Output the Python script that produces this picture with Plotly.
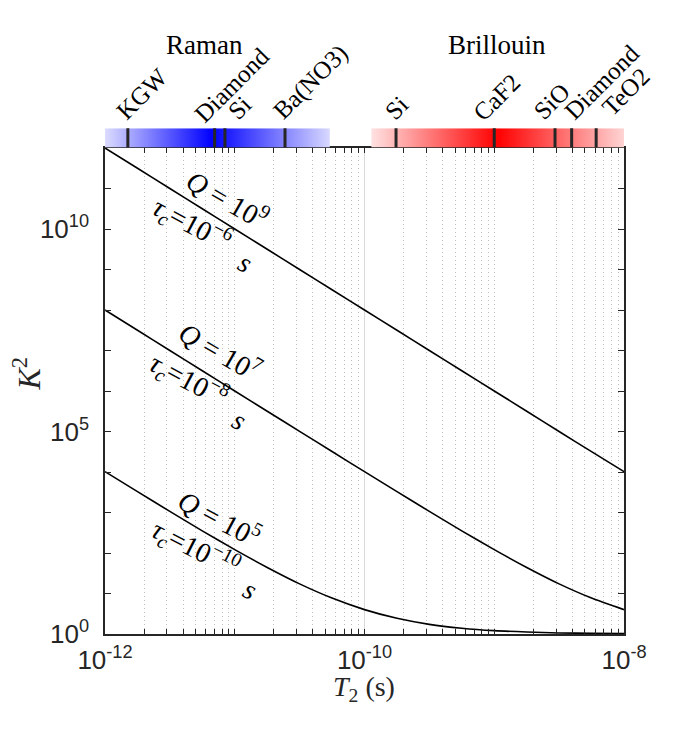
import numpy as np
import plotly.graph_objects as go

# Coherence time T2 (s), sampled every quarter decade
t2 = [1e-12, 1.78e-12, 3.16e-12, 5.62e-12, 1e-11, 1.78e-11, 3.16e-11, 5.62e-11,
      1e-10, 1.78e-10, 3.16e-10, 5.62e-10, 1e-9, 1.78e-9, 3.16e-9, 5.62e-9, 1e-8]

# K^2
k2_q9 = [1e12, 3.16e11, 1e11, 3.16e10, 1e10, 3.16e9, 1e9, 3.16e8,
         1e8, 3.16e7, 1e7, 3.16e6, 1e6, 3.17e5, 1e5, 3.18e4, 1.02e4]
k2_q7 = [1e8, 3.16e7, 1e7, 3.17e6, 1e6, 3.17e5, 1.01e5, 3.2e4,
         1.02e4, 3275, 1064, 353, 121, 43.9, 17.3, 7.72, 4.0]
k2_q5 = [1.02e4, 3275, 1064, 353, 121, 43.9, 17.3, 7.72,
         4.0, 2.44, 1.73, 1.39, 1.21, 1.12, 1.06, 1.04, 1.02]

# Material T2 values shown in the top strip
raman_names = ['KGW', 'Diamond', 'Si', 'Ba(NO3)']
raman_t2 = [1.5e-12, 7.0e-12, 8.4e-12, 2.44e-11]
raman_span = [1e-12, 5.4e-11]
brillouin_names = ['Si', 'CaF2', 'SiO', 'Diamond', 'TeO2']
brillouin_t2 = [1.75e-10, 1.0e-9, 2.94e-9, 3.95e-9, 6.1e-9]
brillouin_span = [1.13e-10, 1e-8]

INK = '#262626'
SERIF = 'Liberation Serif'
SANS = 'Liberation Sans'

fig = go.Figure()

# Curves
for k2 in (k2_q9, k2_q7, k2_q5):
    fig.add_trace(go.Scatter(
        x=t2, y=k2, mode='lines',
        line=dict(color='black', width=1.6, shape='spline', smoothing=0.6),
        hoverinfo='skip', showlegend=False))

# Gradient bars on top
def add_bar(span, colorscale):
    fig.add_trace(go.Scatter(
        x=[span[0], span[1], span[1], span[0], span[0]], y=[0, 0, 1, 1, 0],
        xaxis='x2', yaxis='y2', mode='lines', line=dict(width=0),
        fill='toself', fillgradient=dict(type='horizontal', colorscale=colorscale),
        hoverinfo='skip', showlegend=False))

add_bar(raman_span, [[0, '#dcdcff'], [0.475, '#0000ff'], [1, '#d8d8ff']])
add_bar(brillouin_span, [[0, '#ffe2e2'], [0.5, '#ff0000'], [1, '#ffd4d4']])

# Material markers
mx, my = [], []
for t in raman_t2 + brillouin_t2:
    mx += [t, t, None]
    my += [-0.03, 1.05, None]
fig.add_trace(go.Scatter(x=mx, y=my, xaxis='x2', yaxis='y2', mode='lines',
                         line=dict(color=INK, width=3),
                         hoverinfo='skip', showlegend=False))

annotations = []
# hand-placed horizontal/vertical nudges for the slanted material names
label_nudge = [(-19, 1), (-28, -2), (-5, 1), (-20, 1),
               (-19, 1), (-29, -1), (-30, 1), (-15, 1), (-2, 5)]
for (name, t), (dx, dy) in zip(zip(raman_names + brillouin_names, raman_t2 + brillouin_t2),
                               label_nudge):
    annotations.append(dict(
        text=name, xref='x2', yref='y2', x=np.log10(t), y=1,
        xanchor='left', yanchor='bottom', textangle=-45, showarrow=False,
        xshift=dx, yshift=dy, font=dict(family=SERIF, size=25, color='black')))

for name, pos in (('Raman', -11.23), ('Brillouin', -8.98)):
    annotations.append(dict(
        text=name, xref='x2', yref='paper', x=pos, y=1.164,
        xanchor='center', yanchor='middle', showarrow=False,
        font=dict(family=SERIF, size=27, color='black')))

# Curve labels: (text, log10 x, log10 y, angle)
curve_labels = [
    ('<i>Q</i> = 10<sup>9</sup>', -11.052, 10.765, 30),
    ('<i>τ<sub>c</sub></i>=10<sup>−6</sup>', -11.33, 10.12, 28),
    ('<i>s</i>', -10.92, 9.185, 28),
    ('<i>Q</i> = 10<sup>7</sup>', -11.114, 6.99, 30),
    ('<i>τ<sub>c</sub></i>=10<sup>−8</sup>', -11.353, 6.27, 28),
    ('<i>s</i>', -10.96, 5.28, 28),
    ('<i>Q</i> = 10<sup>5</sup>', -11.114, 2.889, 28),
    ('<i>τ<sub>c</sub></i>=10<sup>−10</sup>', -11.306, 2.123, 27),
    ('<i>s</i>', -10.882, 1.11, 27),
]
for text, lx, ly, ang in curve_labels:
    annotations.append(dict(
        text=text, xref='x', yref='y', x=lx, y=ly, textangle=ang,
        xanchor='center', yanchor='middle', showarrow=False,
        font=dict(family=SERIF, size=28, color='black')))

# Axis titles
annotations.append(dict(text='<i>K</i><sup>2</sup>', xref='paper', yref='paper',
                        x=-0.15, y=0.515, textangle=-90, showarrow=False,
                        xanchor='center', yanchor='middle',
                        font=dict(family=SERIF, size=32, color=INK)))
annotations.append(dict(text='<i>T</i><sub>2</sub> (s)', xref='paper', yref='paper',
                        x=0.499, y=-0.108, showarrow=False,
                        xanchor='center', yanchor='middle',
                        font=dict(family=SERIF, size=28, color=INK)))

minor_x = [m * 10.0**e for e in range(-12, -8) for m in range(1, 10) if not (m == 1 and e % 2 == 0)]
minor_y = [10.0**e for e in range(0, 13)]

axis_common = dict(ticks='inside', tickcolor=INK, tickwidth=1, showline=True,
                   linecolor=INK, linewidth=1.5, mirror='ticks', zeroline=False,
                   tickfont=dict(family=SANS, size=26, color=INK))

# page body adds an 8px offset, so the figure is 8px smaller than the window
fig.update_layout(
    width=669, height=729, template='none',
    margin=dict(l=97, r=53, t=120, b=103),
    paper_bgcolor='white', plot_bgcolor='white',
    xaxis=dict(type='log', range=[-12, -8], domain=[0, 1], anchor='y',
               tickvals=[1e-12, 1e-10, 1e-8],
               ticktext=['10<sup>-12</sup>', '10<sup>-10</sup>', '10<sup>-8</sup>'],
               ticklen=5, ticklabelstandoff=2,
               showgrid=True, gridcolor='#d9d9d9', gridwidth=1,
               minor=dict(tickvals=minor_x, ticks='inside', ticklen=5, tickcolor=INK,
                          showgrid=True, gridcolor='#bdbdbd', gridwidth=1,
                          griddash='1px,3px'),
               **axis_common),
    yaxis=dict(type='log', range=[0, 12], domain=[0, 486 / 506], anchor='x',
               tickvals=[1, 1e5, 1e10],
               ticktext=['10<sup>0</sup>', '10<sup>5</sup>', '10<sup>10</sup>'],
               ticklen=6, ticklabelstandoff=9, showgrid=False,
               minor=dict(tickvals=minor_y, ticks='inside', ticklen=6, tickcolor=INK,
                          showgrid=False),
               **axis_common),
    xaxis2=dict(type='log', matches='x', anchor='y2', visible=False, domain=[0, 1]),
    yaxis2=dict(range=[0, 1], domain=[0.9615, 0.9994], anchor='x2', visible=False),
    annotations=annotations,
)

fig.write_html('out.html')
